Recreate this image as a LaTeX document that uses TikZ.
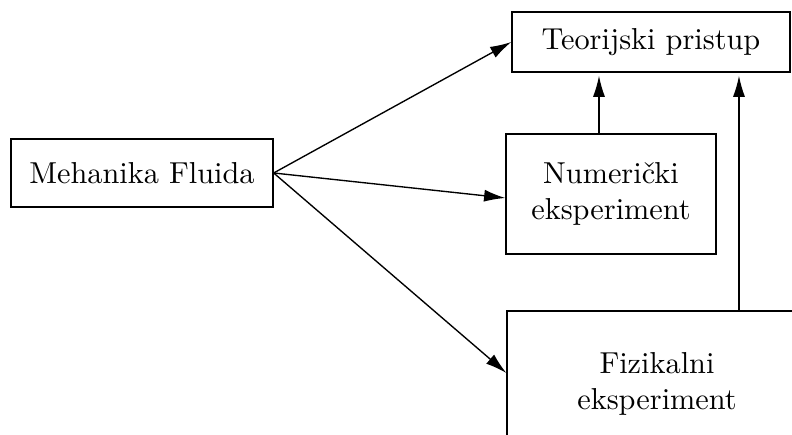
\documentclass[tikz,border=0pt]{standalone}
\usetikzlibrary{arrows.meta}
\begin{document}
\begin{tikzpicture}[x=0.33pt,y=-0.33pt,
  boxnode/.style={draw,line width=0.45pt,inner sep=0pt,align=center,font=\normalsize},
  arr/.style={line width=0.45pt,-{Latex[length=7pt,width=4pt]}}]
\useasboundingbox (0,0) rectangle (792,435);
\clip (0,0) rectangle (792,435);
\node[boxnode,minimum width=262*0.33pt,minimum height=68*0.33pt] (meh) at (142,173) {Mehanika Fluida};
\node[boxnode,minimum width=278*0.33pt,minimum height=60*0.33pt] (teor) at (651,42) {Teorijski pristup};
\node[boxnode,minimum width=210*0.33pt,minimum height=120*0.33pt] (num) at (611,194) {Numerički\\eksperiment};
\node[boxnode,minimum width=300*0.33pt,minimum height=146*0.33pt] (fiz) at (657,384) {Fizikalni\\eksperiment};
\coordinate (a) at (599,0);
\coordinate (b) at (739,0);
\draw[arr] (meh.east) -- (teor.west);
\draw[arr] (meh.east) -- ([yshift=-4*0.33pt]num.west);
\draw[arr] (meh.east) -- ([yshift=11*0.33pt]fiz.west);
\draw[arr] (num.north -| a) -- ([yshift=-1pt]teor.south -| a);
\draw[arr] (fiz.north -| b) -- ([yshift=-1pt]teor.south -| b);
\end{tikzpicture}
\end{document}
